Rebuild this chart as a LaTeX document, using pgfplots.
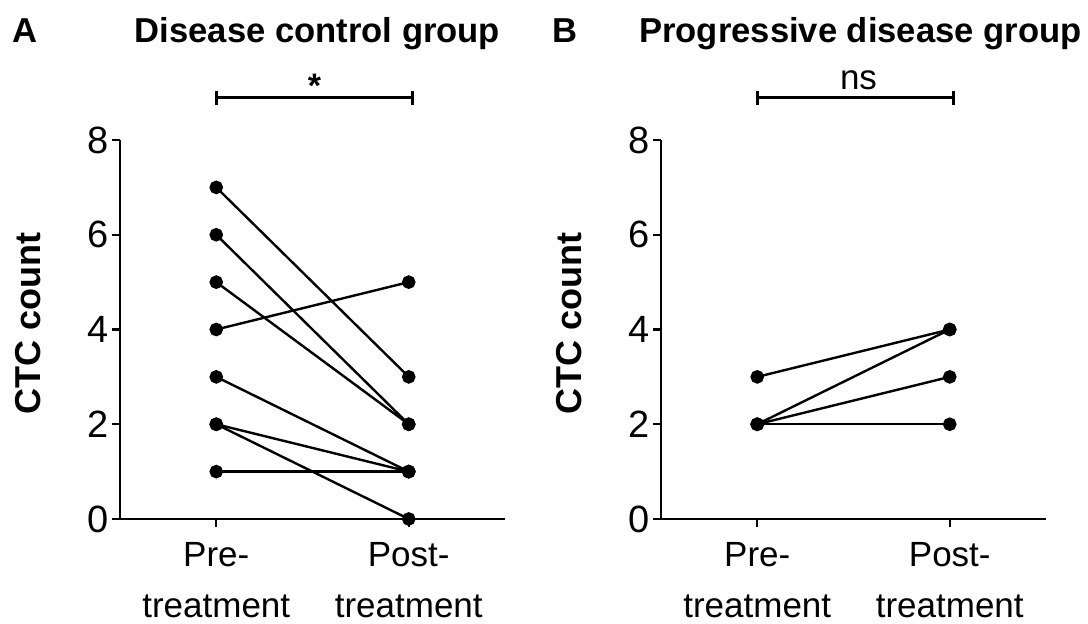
\documentclass[border=0pt]{standalone}
\usepackage{pgfplots}
\pgfplotsset{compat=1.18}
\usepackage{fontspec}
\setmainfont{Liberation Sans}

\pgfplotsset{
  ctc/.style={
    scale only axis, width=192.5pt, height=189.5pt,
    xmin=-0.5, xmax=1.5, ymin=0, ymax=8,
    axis x line=bottom, axis y line=left,
    axis line style={-, line width=1.3pt},
    every tick/.style={black, line width=1.2pt},
    tick align=outside, major tick length=4pt,
    xtick={0,1}, ytick={0,2,4,6,8},
    xticklabels={Pre-\\treatment, Post-\\treatment},
    xticklabel style={align=center, yshift=-4pt,
      font=\fontsize{17.5}{25.5}\selectfont},
    yticklabel style={font=\fontsize{19}{22}\selectfont, inner sep=1.5pt},
    /pgf/number format/assume math mode=true,
    ylabel={CTC count},
    ylabel style={font=\fontsize{18}{21}\selectfont\bfseries,
      at={(axis description cs:-0.239,0.517)}, anchor=center},
    clip=false,
  },
  pair/.style={black, line width=1.2pt, mark=*, mark size=2.8pt},
}
\tikzset{brk/.style={line width=1.4pt}}
\newcommand\titlefont{\fontsize{17.3}{20}\selectfont\bfseries}

\begin{document}
\begin{tikzpicture}
\useasboundingbox (-60pt,-52.5pt) rectangle (484pt,259.5pt);

% A: disease control group
\begin{axis}[ctc, at={(0pt,0pt)}, anchor=south west]
\addplot[pair] coordinates {(0,7)(1,3)};
\addplot[pair] coordinates {(0,6)(1,2)};
\addplot[pair] coordinates {(0,5)(1,2)};
\addplot[pair] coordinates {(0,4)(1,5)};
\addplot[pair] coordinates {(0,3)(1,1)};
\addplot[pair] coordinates {(0,2)(1,1)};
\addplot[pair] coordinates {(0,2)(1,0)};
\addplot[pair] coordinates {(0,1)(1,1)};
\node[anchor=base, yshift=49pt, font=\titlefont] at (axis cs:0.526,8) {Disease control group};
\node[anchor=base, yshift=49pt, xshift=-47.5pt, font=\titlefont] at (rel axis cs:0,1) {A};
\draw[brk] ([yshift=21.3pt]axis cs:0,8) -- ([yshift=21.3pt]axis cs:1.02,8);
\draw[brk] ([yshift=17.5pt]axis cs:0,8) -- ([yshift=24.6pt]axis cs:0,8);
\draw[brk] ([yshift=17.5pt]axis cs:1.02,8) -- ([yshift=24.6pt]axis cs:1.02,8);
\node[anchor=base, yshift=21.3pt, font=\fontsize{17}{20}\selectfont\bfseries] at (axis cs:0.51,8) {*};
\end{axis}

% B: progressive disease group
\begin{axis}[ctc, at={(270.5pt,0pt)}, anchor=south west]
\addplot[pair] coordinates {(0,3)(1,4)};
\addplot[pair] coordinates {(0,2)(1,4)};
\addplot[pair] coordinates {(0,2)(1,3)};
\addplot[pair] coordinates {(0,2)(1,2)};
\node[anchor=base, yshift=49pt, font=\titlefont] at (axis cs:0.536,8) {Progressive disease group};
\node[anchor=base, yshift=49pt, xshift=-48pt, font=\titlefont] at (rel axis cs:0,1) {B};
\draw[brk] ([yshift=21.3pt]axis cs:0,8) -- ([yshift=21.3pt]axis cs:1.02,8);
\draw[brk] ([yshift=17.5pt]axis cs:0,8) -- ([yshift=24.6pt]axis cs:0,8);
\draw[brk] ([yshift=17.5pt]axis cs:1.02,8) -- ([yshift=24.6pt]axis cs:1.02,8);
\node[anchor=base, yshift=25.5pt, font=\fontsize{17.5}{20}\selectfont] at (axis cs:0.526,8) {ns};
\end{axis}
\end{tikzpicture}
\end{document}
